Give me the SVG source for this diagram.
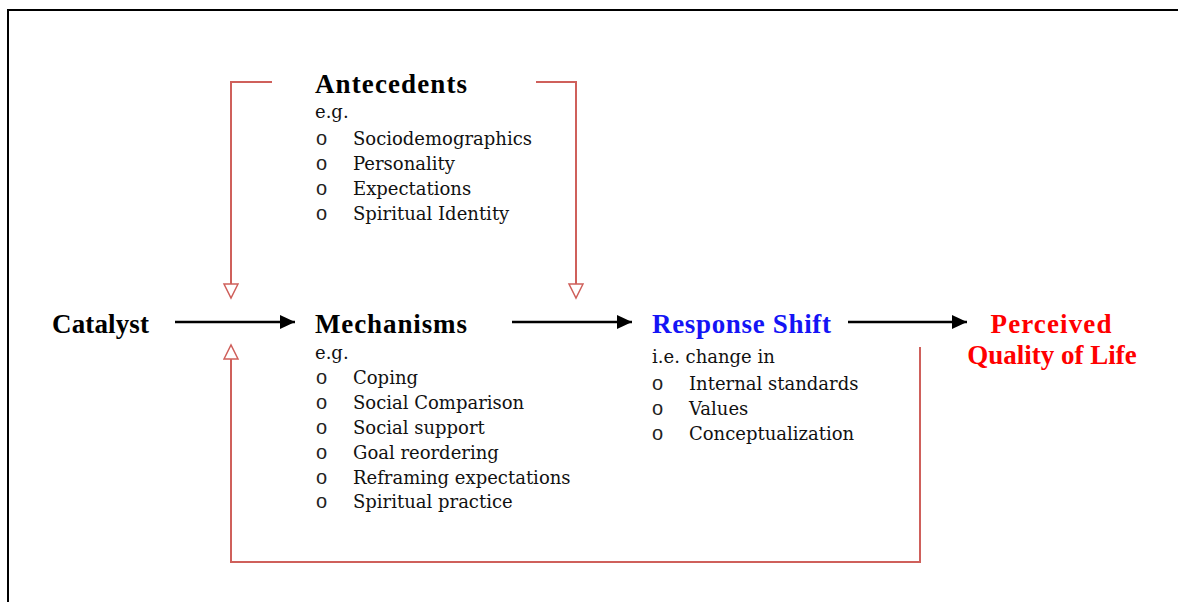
<svg xmlns="http://www.w3.org/2000/svg" width="1178" height="602" viewBox="0 0 1178 602">
  <style>
    .head { font-family: "Liberation Serif", "DejaVu Serif", serif; font-weight: bold; font-size: 27px; }
    .body { font-family: "DejaVu Serif", "Liberation Serif", serif; font-size: 18px; fill: #111; }
    .bul { font-family: "Liberation Sans", "DejaVu Sans", sans-serif; font-size: 20px; fill: #222; }
    .flow { fill: none; stroke: #000; stroke-width: 2.6; }
    .infl { fill: none; stroke: #CF605B; stroke-width: 2; }
  </style>
  <defs>
    <marker id="solid" markerUnits="userSpaceOnUse" markerWidth="16" markerHeight="16" refX="15" refY="7" orient="auto">
      <path d="M0,0 L15,7 L0,14 z" fill="#000"/>
    </marker>
    <marker id="open" markerUnits="userSpaceOnUse" markerWidth="18" markerHeight="18" refX="15" refY="8" orient="auto">
      <path d="M1,1 L15,8 L1,15 z" fill="#fff" stroke="#CF605B" stroke-width="1.5"/>
    </marker>
  </defs>

  <rect width="1178" height="602" fill="#fff"/>
  <!-- page frame -->
  <path d="M8,602 V10 H1178" fill="none" stroke="#000" stroke-width="2"/>

  <g id="connectors">
    <path class="flow" d="M175,322 H295" marker-end="url(#solid)"/>
    <path class="flow" d="M512,322 H632" marker-end="url(#solid)"/>
    <path class="flow" d="M848,322 H967" marker-end="url(#solid)"/>
    <path class="infl" d="M272,82 H231 V298" marker-end="url(#open)"/>
    <path class="infl" d="M536,82 H576 V298" marker-end="url(#open)"/>
    <path class="infl" d="M920,347 V562 H231 V345" marker-end="url(#open)"/>
  </g>

  <g id="antecedents">
    <text class="head" x="315" y="93" textLength="152">Antecedents</text>
    <text class="body" x="315" y="118">e.g.</text>
    <text class="bul" x="316" y="145">o</text><text class="body" x="353" y="145">Sociodemographics</text>
    <text class="bul" x="316" y="170">o</text><text class="body" x="353" y="170">Personality</text>
    <text class="bul" x="316" y="195">o</text><text class="body" x="353" y="195">Expectations</text>
    <text class="bul" x="316" y="220">o</text><text class="body" x="353" y="220">Spiritual Identity</text>
  </g>

  <g id="catalyst">
    <text class="head" x="52" y="333" textLength="97">Catalyst</text>
  </g>

  <g id="mechanisms">
    <text class="head" x="315" y="333" textLength="152">Mechanisms</text>
    <text class="body" x="315" y="359">e.g.</text>
    <text class="bul" x="316" y="384">o</text><text class="body" x="353" y="384">Coping</text>
    <text class="bul" x="316" y="409">o</text><text class="body" x="353" y="409">Social Comparison</text>
    <text class="bul" x="316" y="434">o</text><text class="body" x="353" y="434">Social support</text>
    <text class="bul" x="316" y="459">o</text><text class="body" x="353" y="459">Goal reordering</text>
    <text class="bul" x="316" y="484">o</text><text class="body" x="353" y="484">Reframing expectations</text>
    <text class="bul" x="316" y="508">o</text><text class="body" x="353" y="508">Spiritual practice</text>
  </g>

  <g id="response-shift">
    <text class="head" x="652" y="333" fill="#1414F5" textLength="179">Response Shift</text>
    <text class="body" x="652" y="363">i.e. change in</text>
    <text class="bul" x="652" y="390">o</text><text class="body" x="689" y="390">Internal standards</text>
    <text class="bul" x="652" y="415">o</text><text class="body" x="689" y="415">Values</text>
    <text class="bul" x="652" y="440">o</text><text class="body" x="689" y="440">Conceptualization</text>
  </g>

  <g id="quality-of-life">
    <text class="head" x="1051" y="333" fill="#FF0000" text-anchor="middle" textLength="121">Perceived</text>
    <text class="head" x="1052" y="364" fill="#FF0000" text-anchor="middle">Quality of Life</text>
  </g>
</svg>
